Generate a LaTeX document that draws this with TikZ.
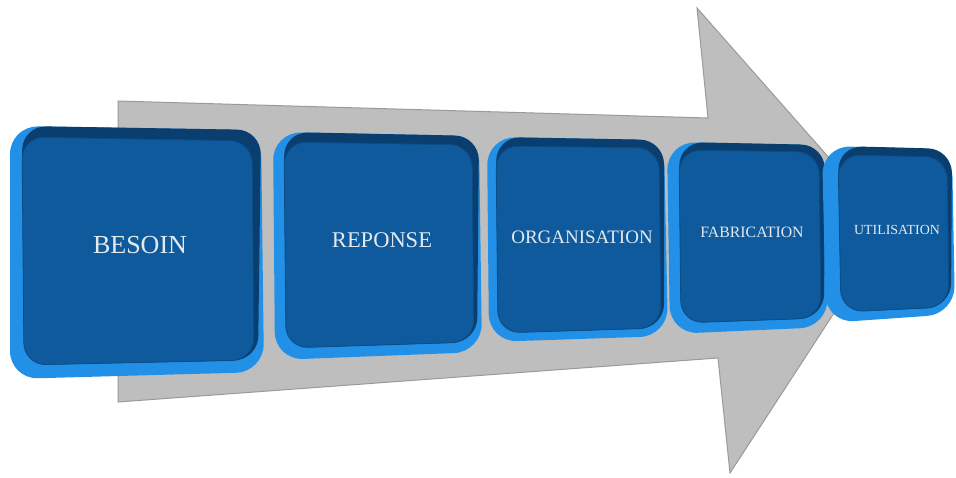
\documentclass[tikz,border=0pt]{standalone}
\usepackage{fontspec}
\setmainfont{Liberation Serif}
\definecolor{rimblue}{HTML}{2290E6}
\definecolor{rimdark}{HTML}{0A3E6E}
\definecolor{faceblue}{HTML}{0E5A9C}
\definecolor{faceline}{HTML}{0B4C86}
\definecolor{arrowgray}{HTML}{BEBEBE}
\definecolor{arrowedge}{HTML}{9A9A9A}
\definecolor{txt}{HTML}{E4E9EE}
\tikzset{
  rim/.style={fill=rimblue, rounded corners=28pt},
  rimshade/.style={fill=rimdark, rounded corners=24pt},
  face/.style={fill=faceblue, draw=faceline, line width=0.8pt, rounded corners=22pt},
  lbl/.style={text=txt, inner sep=0pt, anchor=center},
  bigarrow/.style={fill=arrowgray, draw=arrowedge, line width=1pt, line join=miter}
}
\begin{document}
\begin{tikzpicture}[x=1pt,y=-1pt]
\useasboundingbox (0,0) rectangle (956,477);
\fill[white] (0,0) rectangle (956,477);
% big arrow
\draw[bigarrow] (118,101) -- (708,118) -- (697,8) -- (890,227) -- (730,473) -- (718,358) -- (118,402) -- cycle;
% box 1
\path[rim] (10,126) -- (261,130) -- (264,372) -- (10,379) -- cycle;
\path[rimshade] (22,126) -- (261,130) -- (258,360) -- (24,365) -- cycle;
\path[face] (22,137) -- (252,141) -- (254,360) -- (24,365) -- cycle;
\node[lbl, font=\fontsize{26}{26}\selectfont] (besoin) at (140,245) {BESOIN};
% box 2
\path[rim] (273,132) -- (479,136) -- (482,352) -- (275,360) -- cycle;
\path[rimshade] (284,132) -- (479,136) -- (477,342) -- (286,348) -- cycle;
\path[face] (284,142) -- (472,145) -- (474,342) -- (286,348) -- cycle;
\node[lbl, font=\fontsize{22.5}{22.5}\selectfont] (reponse) at (382,240) {REPONSE};
% box 3
\path[rim] (487,137) -- (664,140) -- (668,336) -- (489,342) -- cycle;
\path[rimshade] (496,137) -- (664,140) -- (664,328) -- (498,333) -- cycle;
\path[face] (496,146) -- (659,148) -- (661,328) -- (498,333) -- cycle;
\node[lbl, font=\fontsize{19}{19}\selectfont] (organisation) at (582,237) {ORGANISATION};
% box 4
\path[rim] (667,142) -- (825,145) -- (828,327) -- (670,334) -- cycle;
\path[rimshade] (679,142) -- (825,145) -- (824,318) -- (681,323) -- cycle;
\path[face] (679,150) -- (819,152) -- (821,318) -- (681,323) -- cycle;
\node[lbl, font=\fontsize{15.8}{15.8}\selectfont] (fabrication) at (752,232) {FABRICATION};
% box 5
\path[rim] (822,146) -- (952,149) -- (955,314) -- (826,323) -- cycle;
\path[rimshade] (838,146) -- (952,149) -- (951,307) -- (841,312) -- cycle;
\path[face] (838,155) -- (947,157) -- (949,307) -- (841,312) -- cycle;
\node[lbl, font=\fontsize{13.9}{13.9}\selectfont] (utilisation) at (897,230) {UTILISATION};
\end{tikzpicture}
\end{document}
